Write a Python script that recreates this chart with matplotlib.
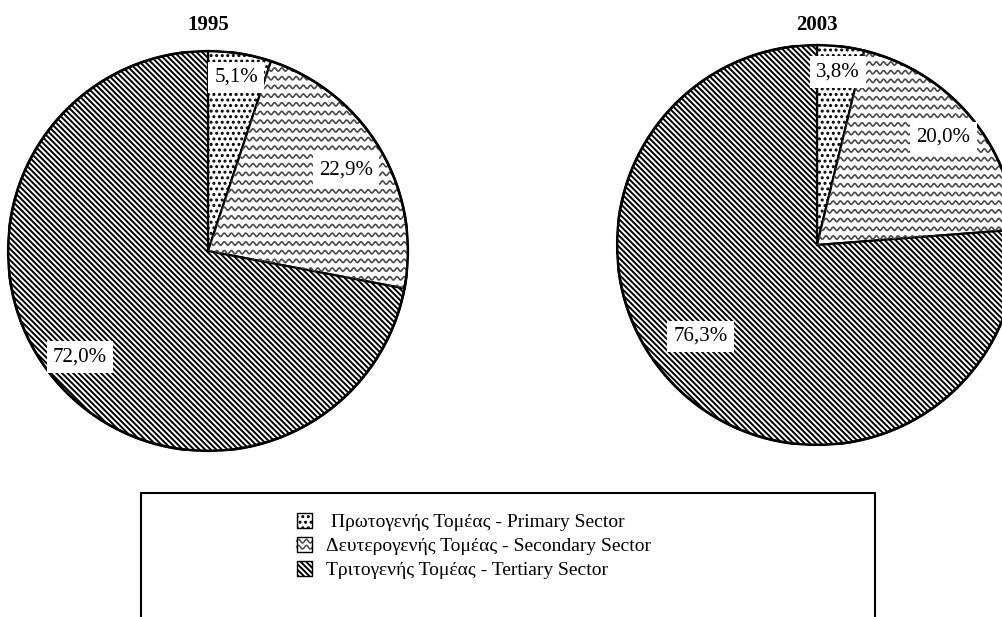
import numpy as np
import matplotlib
matplotlib.use('Agg')
import matplotlib.pyplot as plt
import matplotlib.patches as mpatches
from matplotlib.lines import Line2D
from matplotlib.legend_handler import HandlerBase

# Данные (доли секторов, %)
years = ['1995', '2003']
primary = [5.1, 3.8]
secondary = [22.9, 20.0]
tertiary = [72.0, 76.3]
value_labels = [['5,1%', '22,9%', '72,0%'], ['3,8%', '20,0%', '76,3%']]
sector_names = [' Πρωτογενής Τομέας - Primary Sector',
                'Δευτερογενής Τομέας - Secondary Sector',
                'Τριτογενής Τομέας - Tertiary Sector']

plt.rcParams['font.family'] = ['Liberation Serif', 'DejaVu Serif']
plt.rcParams['hatch.linewidth'] = 1.4
plt.rcParams['hatch.color'] = 'black'

W, H = 1003, 617
R = 200  # радиус круга в пикселях
centers = [(208, 251), (817, 245)]
# положение подписей: доля радиуса и сдвиг угла (град.)
label_dist = [[0.88, 0.8, 0.83], [0.87, 0.83, 0.74]]
label_shift = [[0, 0, 0], [0, 0, -9]]
hatches = ['...', None, '\\' * 6]

fig = plt.figure(figsize=(W / 100, H / 100), dpi=100)


def wavy_lines(ax, clip, x0, x1, y0, y1, period, amp, step, lw=1.2, color='#4a4a4a'):
    # волнистая штриховка, обрезанная по сектору
    xs = np.linspace(x0, x1, 600)
    for yy in np.arange(y0, y1, step):
        ln, = ax.plot(xs, yy + amp * np.sin(2 * np.pi * xs / period),
                      color=color, lw=lw, solid_capstyle='butt')
        if clip is not None:
            ln.set_clip_path(clip)


for k, year in enumerate(years):
    cx, cy = centers[k]
    ax = fig.add_axes([(cx - R) / W, 1 - (cy + R) / H, 2 * R / W, 2 * R / H])
    vals = [primary[k], secondary[k], tertiary[k]]
    wedges, _ = ax.pie(vals, startangle=90, counterclock=False,
                       colors=['white'] * 3,
                       wedgeprops=dict(edgecolor='black', linewidth=1.6))
    for w, h in zip(wedges, hatches):
        if h:
            w.set_hatch(h)
    ax.set_xlim(-1, 1)
    ax.set_ylim(-1, 1)
    ax.set_aspect('auto')
    ax.set_axis_off()

    wavy_lines(ax, wedges[1], -1.05, 1.05, -1.05, 1.05, 0.036, 0.0085, 0.0435)
    # контур круга
    ax.add_patch(mpatches.Circle((0, 0), 1, fill=False, edgecolor='black',
                                 linewidth=1.9, zorder=5))

    for i, w in enumerate(wedges):
        th = np.deg2rad((w.theta1 + w.theta2) / 2 + label_shift[k][i])
        d = label_dist[k][i]
        ax.text(d * np.cos(th), d * np.sin(th), value_labels[k][i],
                ha='center', va='center', fontsize=15, zorder=6,
                bbox=dict(boxstyle='square,pad=0.3', facecolor='white',
                          edgecolor='none'))

    ax.text(0, (cy - 25) / R, year, ha='center', va='center',
            fontsize=15, fontweight='bold', clip_on=False)


class HandlerWavy(HandlerBase):
    def create_artists(self, legend, orig_handle, xdescent, ydescent,
                       width, height, fontsize, trans):
        x0, y0 = -xdescent, -ydescent
        bg = mpatches.Rectangle((x0, y0), width, height, facecolor='white',
                                edgecolor='none', transform=trans)
        arts = [bg]
        xs = np.linspace(x0, x0 + width, 40)
        for f in (0.3, 0.7):
            arts.append(Line2D(xs, y0 + height * f + height * 0.12 *
                               np.sin(2 * np.pi * (xs - x0) / (width / 2)),
                               color='#4a4a4a', lw=1.1, transform=trans))
        arts.append(mpatches.Rectangle((x0, y0), width, height, facecolor='none',
                                       edgecolor='black', lw=1.0, transform=trans))
        return arts


handles = [mpatches.Patch(facecolor='white', edgecolor='black', hatch='...'),
           mpatches.Patch(facecolor='white', edgecolor='black'),
           mpatches.Patch(facecolor='white', edgecolor='black', hatch='\\' * 6)]

leg = fig.legend(handles, sector_names, loc='upper left',
                 bbox_to_anchor=(287 / W, 1 - 503 / H), frameon=False,
                 fontsize=14, handlelength=0.8, handleheight=0.8,
                 handletextpad=0.7, labelspacing=0.3, borderpad=0,
                 handler_map={handles[1]: HandlerWavy()})

# рамка легенды (низ обрезан краем рисунка)
fig.add_artist(mpatches.Rectangle((141 / W, -0.1), (875 - 141) / W, 1 - 493 / H + 0.1,
                                  transform=fig.transFigure, fill=False,
                                  edgecolor='black', linewidth=1.5))

fig.savefig('out.png', dpi=100)
